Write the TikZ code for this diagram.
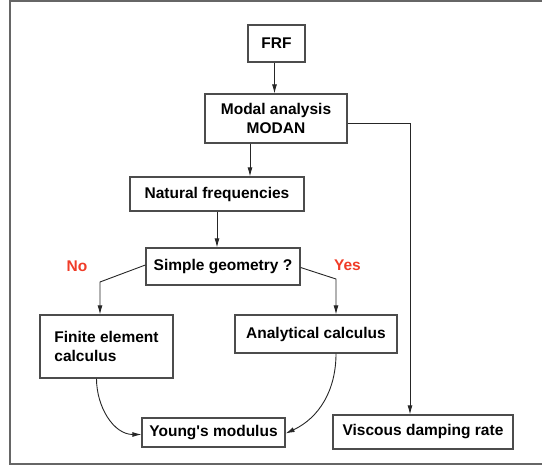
\documentclass[tikz,border=0pt]{standalone}
\usepackage{fontspec}
\setmainfont{Liberation Sans}
\usetikzlibrary{arrows.meta}

\definecolor{answerred}{RGB}{240,60,40}

\begin{document}
\begin{tikzpicture}[x=1pt,y=1pt,
  box/.style={draw=black!70,line width=1.2pt,fill=white,inner sep=0pt,
    font=\fontsize{15.5}{19}\selectfont\bfseries},
  link/.style={draw=black!85,line width=0.9pt,-{Latex[length=9pt,width=5pt]}},
  answer/.style={text=answerred,font=\fontsize{15.5}{18}\selectfont\bfseries}]
\useasboundingbox (0,0) rectangle (542,466);
% frame (open on the right)
\draw[black!60,line width=1.8pt] (545,465) -- (10,465) -- (10,2) -- (545,2);

% boxes
\node[box,minimum width=57pt,minimum height=37pt] (frf) at (276.5,422.5) {FRF};
\node[box,minimum width=142pt,minimum height=49pt,align=center] (modan) at (276,347.5) {Modal analysis\\MODAN};
\node[box,minimum width=174pt,minimum height=34pt] (nat) at (217,272) {Natural frequencies};
\node[box,minimum width=154pt,minimum height=37pt] (simple) at (223,199.5) {Simple geometry ?};
\node[box,minimum width=133pt,minimum height=63pt,align=left] (fe) at (106.5,119.5) {Finite element\\calculus};
\node[box,minimum width=162pt,minimum height=38pt] (ana) at (316,132) {Analytical calculus};
\node[box,minimum width=143pt,minimum height=29pt] (young) at (213.5,33.5) {Young\textquotesingle s modulus};
\node[box,minimum width=180pt,minimum height=34pt] (visc) at (423,34) {Viscous damping rate};

% answers
\node[answer] (no) at (77,199.5) {No};
\node[answer] (yes) at (347.5,201) {Yes};

% bends
\coordinate (turn) at (410,343);
\coordinate (nobend) at (100,184);
\coordinate (yesbend) at (336,187);

% connectors
\draw[link] ([xshift=-2]frf.south) -- ([xshift=-2]frf.south |- modan.north);
\draw[link] ([yshift=-4.5]modan.east) -- (turn) -- (turn |- visc.north);
\draw[link] ([xshift=-26]modan.south) -- ([xshift=-26]modan.south |- nat.north);
\draw[link] (nat.south) -- (nat.south |- simple.north);
\draw[link] ([yshift=1.5]simple.west) -- (nobend) -- (nobend |- fe.north);
\draw[link] ([yshift=-1]simple.east) -- (yesbend) -- (yesbend |- ana.north);
\draw[link] ([xshift=-10]fe.south) to[out=-90,in=180] ([yshift=-2]young.west);
\draw[link] ([xshift=20]ana.south) to[out=-90,in=25] ([yshift=-1]young.east);
\end{tikzpicture}
\end{document}
